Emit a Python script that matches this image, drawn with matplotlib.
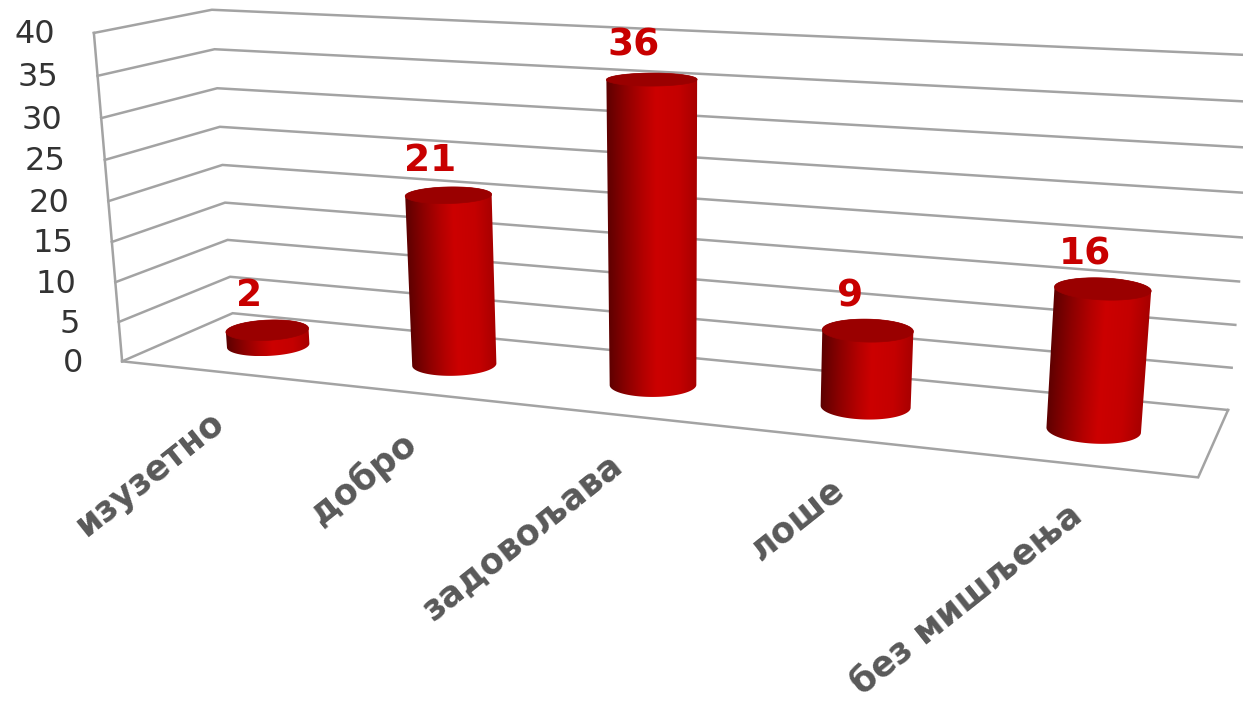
import numpy as np
import matplotlib
matplotlib.use('Agg')
import matplotlib.pyplot as plt
from matplotlib.colors import LinearSegmentedColormap
from matplotlib.patches import Polygon

# ------------------------------------------------------
# DATA
# ------------------------------------------------------
categories = ['изузетно', 'добро', 'задовољава', 'лоше', 'без мишљења']
values = [2, 21, 36, 9, 16]
y_ticks = [0, 5, 10, 15, 20, 25, 30, 35, 40]

# Frame, used only to fit the camera (pixels)
wall_front_left = [(121, 362), (118, 322), (116, 282), (113, 241), (109, 201), (105, 160), (101, 118), (98, 76), (93, 33)]
wall_back_left = [(233, 313), (230, 277), (228, 240), (225, 203), (222, 165), (220, 127), (217, 88), (213, 49), (213, 10)]
wall_back_right = [(1228, 409), (1232, 368), (1235, 325), (1239, 281), (1243, 238)]
floor_front_right = (1198, 478)

grid_color = '#a3a3a3'
bar_cmap = LinearSegmentedColormap.from_list('bar', [(0, '#5e0000'), (0.2, '#8c0000'), (0.4, '#b40000'), (0.55, '#cc0000'), (0.8, '#c40000'), (1, '#a80000')])
top_color = '#9a0000'
red_text = '#c80000'

radius_x = 0.197
radius_y = 0.2

# ------------------------------------------------------
# CAMERA
# ------------------------------------------------------
world = []
image = []
for i, z in enumerate(y_ticks):
	world.append((0, 0, z))
	image.append(wall_front_left[i])
	world.append((0, 1, z))
	image.append(wall_back_left[i])
for i, p in enumerate(wall_back_right):
	world.append((5, 1, y_ticks[i]))
	image.append(p)
world.append((5, 0, 0))
image.append(floor_front_right)

A = []
b = []
for (X, Y, Z), (u, v) in zip(world, image):
	A.append([X, Y, Z, 1, 0, 0, 0, 0, -u*X, -u*Y, -u*Z])
	b.append(u)
	A.append([0, 0, 0, 0, X, Y, Z, 1, -v*X, -v*Y, -v*Z])
	b.append(v)
P = np.append(np.linalg.lstsq(np.array(A, float), np.array(b, float), rcond=None)[0], 1).reshape(3, 4)

def project(x, y, z):
	x, y, z = np.broadcast_arrays(x, y, z)
	q = P @ np.vstack([x.ravel(), y.ravel(), z.ravel(), np.ones(x.size)])
	return q[0]/q[2], q[1]/q[2]

# ------------------------------------------------------
# PLOT
# ------------------------------------------------------
fig = plt.figure(figsize=(12.43, 7.01), dpi=100)
ax = fig.add_axes([0, 0, 1, 1])

# Grid lines along the walls
for z in y_ticks:
	px, py = project([0, 0, 5], [0, 1, 1], z)
	ax.plot(px, py, color=grid_color, lw=1.8, zorder=1, solid_joinstyle='miter')
# Left edge and floor front
px, py = project(0, 0, [0, 40])
ax.plot(px, py, color=grid_color, lw=1.8, zorder=1)
px, py = project([0, 5, 5], [0, 0, 1], 0)
ax.plot(px, py, color=grid_color, lw=1.8, zorder=1, solid_joinstyle='miter')

# Cylinders
n = 360
theta = np.linspace(0, 2*np.pi, n, endpoint=False)
for i, val in enumerate(values):
	cx = i + 0.5 + radius_x*np.cos(theta)
	cy = 0.5 + radius_y*np.sin(theta)
	bx, by = project(cx, cy, 0)
	tx, ty = project(cx, cy, val)

	# Outline of the side: front arc of the base, back arc of the top
	b0, b1 = bx.argmin(), bx.argmax()
	t0, t1 = tx.argmin(), tx.argmax()
	base_idx = np.arange(b0, b0 + (b1 - b0) % n + 1) % n
	top_idx = np.arange(t1, t1 + (t0 - t1) % n + 1) % n
	outline = np.column_stack([np.r_[bx[base_idx], tx[top_idx]], np.r_[by[base_idx], ty[top_idx]]])

	# Shading runs across the bar, following its lean
	y0 = ty.min()
	y1 = by.max()
	x0 = min(bx.min(), tx.min()) - 2
	x1 = max(bx.max(), tx.max()) + 2
	grid_x, grid_y = np.meshgrid(np.linspace(x0, x1, 300), np.linspace(y0, y1, 300))
	f = (grid_y - ty[t0])/(by[b0] - ty[t0])
	edge_l = tx[t0] + f*(bx[b0] - tx[t0])
	edge_r = tx[t1] + f*(bx[b1] - tx[t1])
	shade = np.clip((grid_x - edge_l)/(edge_r - edge_l), 0, 1)
	im = ax.imshow(shade, cmap=bar_cmap, vmin=0, vmax=1, extent=(x0, x1, y1, y0), aspect='auto',
		interpolation='bilinear', zorder=3)
	clip = Polygon(outline, closed=True, transform=ax.transData, facecolor='none', edgecolor='none')
	ax.add_patch(clip)
	im.set_clip_path(clip)
	ax.add_patch(Polygon(np.column_stack([tx, ty]), closed=True, facecolor=top_color, edgecolor=top_color, lw=0.5, zorder=4))

	# Value label
	lx, ly = project(i + 0.5, 0.5, val)
	ax.annotate(str(val), xy=(lx[0], ly[0]), xytext=(-18, 34), textcoords='offset pixels',
		ha='center', va='center', color=red_text, fontsize=27, fontweight='bold', family='DejaVu Sans', zorder=5)

	# Category label
	lx, ly = project(i + 0.5, 0, 0)
	ax.annotate(categories[i], xy=(lx[0], ly[0]), xytext=(-5, -34), textcoords='offset pixels',
		ha='right', va='top', rotation=38.5, rotation_mode='anchor', color='#595959',
		fontsize=25, fontweight='bold', family='DejaVu Sans', zorder=5)

# Value axis labels
for z in y_ticks:
	lx, ly = project(0, 0, z)
	ax.annotate(str(z), xy=(lx[0], ly[0]), xytext=(-39, -2), textcoords='offset pixels',
		ha='right', va='center', color='#333333', fontsize=23, family='DejaVu Sans')

ax.set_xlim(0, 1243)
ax.set_ylim(701, 0)
ax.axis('off')

fig.savefig('out.png', dpi=100)
plt.close('all')
